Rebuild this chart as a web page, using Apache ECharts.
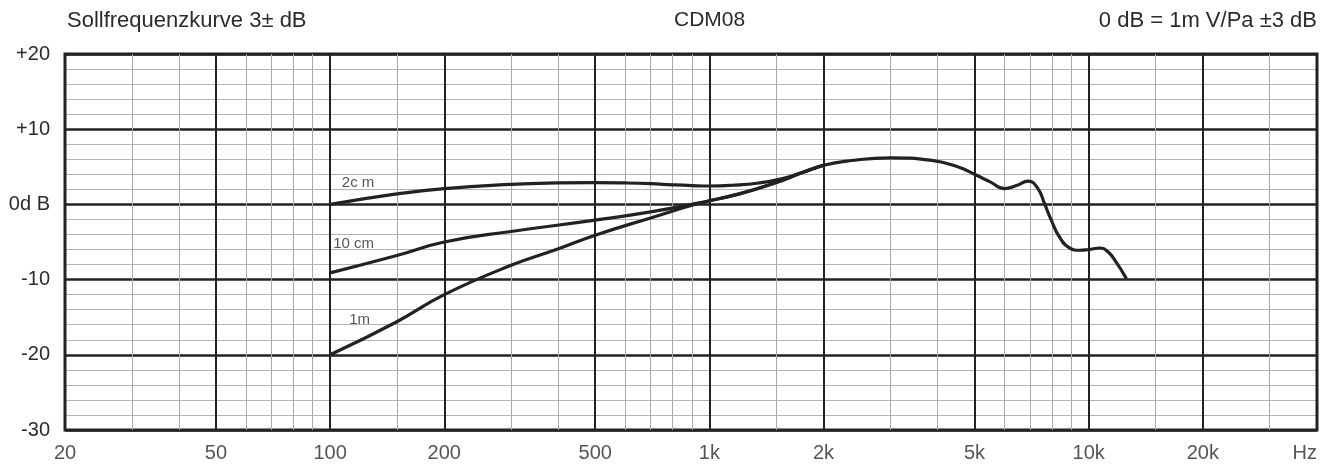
<!DOCTYPE html>
<html>
<head>
<meta charset="utf-8">
<script src="https://cdn.jsdelivr.net/npm/echarts@6/dist/echarts.min.js"></script>
<style>
html,body{margin:0;padding:0;background:#fff;}
#chart{width:1333px;height:466px;}
</style>
</head>
<body>
<div id="chart"></div>
<script>
// ---- data ----
const freq2cm = [100,150,200,300,400,500,600,700,800,900,1000,1150,1350,1550,1750,2000,2340,3000,3860,4570,5000,5500,6000,6450,6920,7350,7650,7970,8390,8910,9470,10000,10690,11240,11830,12580];
const db2cm   = [0,1.4,2.1,2.65,2.85,2.9,2.85,2.75,2.6,2.5,2.45,2.55,2.85,3.4,4.2,5.2,5.8,6.2,5.85,4.9,4.0,3.0,2.1,2.5,3.1,2.1,0.1,-2.1,-4.4,-5.8,-6.1,-6.0,-5.8,-6.3,-7.7,-9.9];
const freq10cm = [100,150,200,300,500,700,940,1200,1500,1750,2000];
const db10cm   = [-9.1,-6.8,-5.0,-3.6,-2.1,-1.0,0.2,1.4,2.9,4.2,5.2];
const freq1m = [100,150,200,300,400,500,700,940,1200,1500,1750,2000];
const db1m   = [-20,-15.6,-12.0,-8.1,-5.9,-4.1,-1.8,0.15,1.4,2.9,4.2,5.2];

const curveNames = ['2c m','10 cm','1m'];
const curveLabelFreq = [118.5,115.3,119.6];
const curveLabelDb = [2.93,-5.19,-15.3];

const majorFreqs = [50,100,200,500,1000,2000,5000,10000,20000];
const minorFreqs = [30,40,60,70,80,90,150,300,400,600,700,800,900,1500,3000,4000,6000,7000,8000,9000,15000,30000];

const xTickFreqs = [20,50,100,200,500,1000,2000,5000,10000,20000,40000];
const xTickLabels = ['20','50','100','200','500','1k','2k','5k','10k','20k','Hz'];

const yTickValues = [20,10,0,-10,-20,-30];
const yTickLabels = ['+20','+10','0d B','-10','-20','-30'];

const titleLeft = 'Sollfrequenzkurve 3± dB';
const titleCenter = 'CDM08';
const titleRight = '0 dB = 1m V/Pa ±3 dB';

// ---- chart ----
const FONT = '"Liberation Sans", Arial, Helvetica, sans-serif';
const TXT = '#2b2b2b';
const zip = (a,b) => a.map((v,i)=>[v,b[i]]);

const chart = echarts.init(document.getElementById('chart'), null, {renderer:'canvas'});
const curveStyle = {color:'#222', width:3.2};

chart.setOption({
  animation:false,
  backgroundColor:'#fff',
  title:[
    {text:titleLeft, left:67, top:10, padding:0, textStyle:{fontFamily:FONT,fontSize:22,fontWeight:'normal',color:TXT}},
    {text:titleCenter, left:674, top:10, padding:0, textStyle:{fontFamily:FONT,fontSize:21,fontWeight:'normal',color:TXT}},
    {text:titleRight, right:16, top:10, padding:0, textStyle:{fontFamily:FONT,fontSize:22,fontWeight:'normal',color:TXT}}
  ],
  grid:{left:65,right:16,top:54,bottom:36,show:true,borderColor:'#222',borderWidth:3,backgroundColor:'transparent',z:3},
  xAxis:{
    type:'log', logBase:10, min:20, max:40000,
    axisLine:{show:false}, axisTick:{show:false}, axisLabel:{show:false}, splitLine:{show:false}
  },
  yAxis:{
    type:'value', min:-30, max:20, interval:10, z:2,
    axisLine:{show:false}, axisTick:{show:false},
    axisLabel:{
      margin:15, fontFamily:FONT, fontSize:20, color:TXT,
      formatter:v => { const i = yTickValues.indexOf(v); return i>=0 ? yTickLabels[i] : ''; }
    },
    splitLine:{show:true, lineStyle:{color:'#222', width:2.5}},
    minorTick:{show:false, splitNumber:5},
    minorSplitLine:{show:true, lineStyle:{color:'#b4b4b4', width:1}}
  },
  series:[
    {
      type:'line', name:'gridMinor', z:1, silent:true, symbol:'none',
      data:[[20,-30]], lineStyle:{opacity:0},
      markLine:{
        silent:true, symbol:['none','none'], label:{show:false},
        lineStyle:{color:'#aaaaaa', width:1, type:'solid'},
        data:minorFreqs.map(f=>({xAxis:f}))
      }
    },
    {
      type:'line', name:'gridMajor', z:2, silent:true, symbol:'none',
      data:[[20,-30]], lineStyle:{opacity:0},
      markLine:{
        silent:true, symbol:['none','none'], label:{show:false},
        lineStyle:{color:'#222', width:2, type:'solid'},
        data:majorFreqs.map(f=>({xAxis:f}))
      }
    },
    {type:'line', name:curveNames[0], z:5, smooth:0.5, symbol:'none', lineStyle:curveStyle, data:zip(freq2cm,db2cm)},
    {type:'line', name:curveNames[1], z:5, smooth:0.5, symbol:'none', lineStyle:curveStyle, data:zip(freq10cm,db10cm)},
    {type:'line', name:curveNames[2], z:5, smooth:0.5, symbol:'none', lineStyle:curveStyle, data:zip(freq1m,db1m)},
    {
      type:'scatter', name:'curveLabels', z:6, silent:true, symbolSize:0,
      data:curveNames.map((n,i)=>({value:[curveLabelFreq[i],curveLabelDb[i]], name:n})),
      label:{show:true, position:'inside', formatter:p=>p.name, fontFamily:FONT, fontSize:15, color:TXT}
    },
    {
      type:'scatter', name:'xTicks', z:6, silent:true, symbolSize:0, clip:false,
      data:xTickFreqs.map((f,i)=>({value:[f,-30], name:xTickLabels[i], label: i===xTickFreqs.length-1 ? {align:'right'} : {}})),
      label:{show:true, position:'bottom', distance:13, formatter:p=>p.name, fontFamily:FONT, fontSize:20, color:TXT}
    }
  ]
});
</script>
</body>
</html>
